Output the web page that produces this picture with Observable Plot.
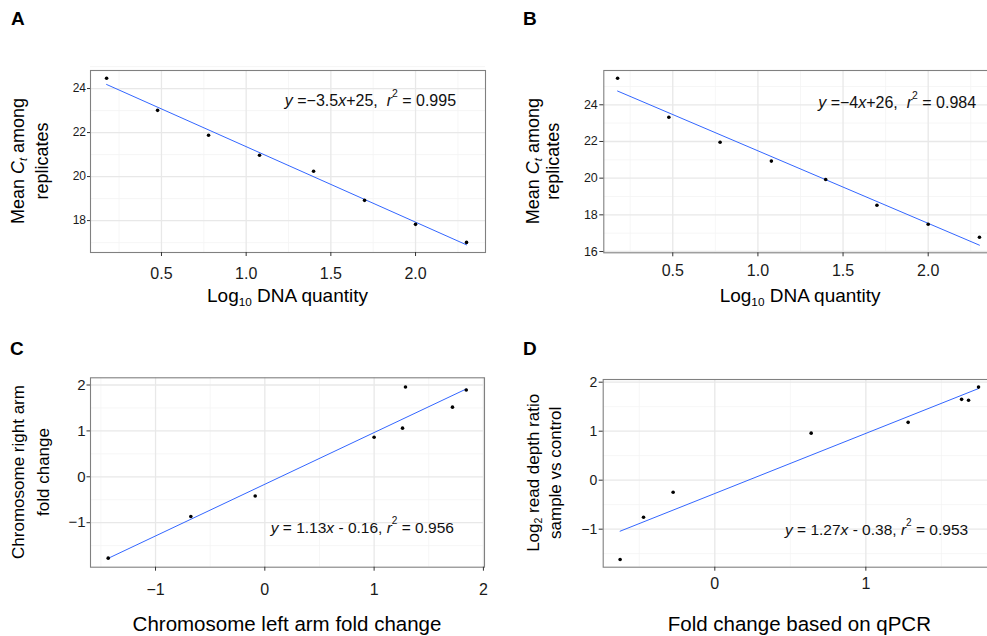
<!DOCTYPE html>
<html><head><meta charset="utf-8">
<script src="https://cdn.jsdelivr.net/npm/d3@7"></script>
<script src="https://cdn.jsdelivr.net/npm/@observablehq/plot@0.6"></script>
<style>
body{margin:0;background:#fff;overflow:hidden;}
#wrap{position:relative;width:987px;height:636px;overflow:hidden;background:#fff;}
#wrap svg{position:absolute;}
</style></head><body><div id="wrap"></div>
<script>
// ---- data ----
const dnaLog10 = [0.176, 0.477, 0.778, 1.079, 1.398, 1.699, 2.0, 2.301];
const ctMeanA = [24.47, 23.01, 21.88, 20.97, 20.24, 18.92, 17.83, 17.01];
const ctMeanB = [25.45, 23.32, 21.96, 20.93, 19.93, 18.52, 17.49, 16.78];
const leftArmC = [-1.433, -0.677, -0.088, 1.0, 1.26, 1.287, 1.717, 1.843];
const rightArmC = [-1.773, -0.865, -0.42, 0.863, 1.06, 1.957, 1.517, 1.89];
const qpcrD = [-0.627, -0.472, -0.276, 0.638, 1.28, 1.634, 1.68, 1.746];
const depthD = [-1.62, -0.755, -0.245, 0.96, 1.18, 1.65, 1.63, 1.90];

const ticksAB_x = [0.5, 1.0, 1.5, 2.0];
const minorAB_x = [0.25, 0.75, 1.25, 1.75, 2.25];
const ticksA_y = [18, 20, 22, 24];
const ticksB_y = [16, 18, 20, 22, 24];
const minorAB_y = [17, 19, 21, 23, 25];
const ticksC_x = [-1, 0, 1, 2];
const minorC_x = [-1.5, -0.5, 0.5, 1.5];
const ticksD_x = [0, 1];
const minorD_x = [-0.5, 0.5, 1.5];
const ticksCD_y = [-1, 0, 1, 2];
const minorCD_y = [-1.5, -0.5, 0.5, 1.5];

const eqA = [["y", "i"], [" =−3.5"], ["x", "i"], ["+25,  "], ["r", "i"], ["2", "sup"], [" = 0.995"]];
const eqB = [["y", "i"], [" =−4"], ["x", "i"], ["+26,  "], ["r", "i"], ["2", "sup"], [" = 0.984"]];
const eqC = [["y", "i"], [" = 1.13"], ["x", "i"], [" - 0.16, "], ["r", "i"], ["2", "sup"], [" = 0.956"]];
const eqD = [["y", "i"], [" = 1.27"], ["x", "i"], [" - 0.38, "], ["r", "i"], ["2", "sup"], [" = 0.953"]];

const xTitleAB = [["Log"], ["10", "sub"], [" DNA quantity"]];
const yTitleAB = [[["Mean "], ["C", "i"], ["t", "isub"], [" among"]], [["replicates"]]];
const xTitleC = [["Chromosome left arm fold change"]];
const yTitleC = [[["Chromosome right arm"]], [["fold change"]]];
const xTitleD = [["Fold change based on qPCR"]];
const yTitleD = [[["Log"], ["2", "sub"], [" read depth ratio"]], [["sample vs control"]]];

const FONT = "'Liberation Sans', Arial, Helvetica, sans-serif";

function rich(textSel, segs, fs) {
  let shift = 0;
  segs.forEach(([t, k]) => {
    const ts = textSel.append("tspan").text(t);
    let target = 0, size = fs;
    if (k === "sub" || k === "isub") { target = 0.3 * fs; size = 0.62 * fs; }
    if (k === "sup") { target = -0.42 * fs; size = 0.65 * fs; }
    if (k === "i" || k === "isub") ts.attr("font-style", "italic");
    ts.attr("font-size", size);
    if (target !== shift) { ts.attr("dy", target - shift); shift = target; }
  });
}

function panel(c) {
  const data = c.xs.map((x, i) => ({x, y: c.ys[i]}));
  const plot = Plot.plot({
    width: c.width, height: c.height,
    marginTop: c.m[0], marginRight: c.m[1], marginBottom: c.m[2], marginLeft: c.m[3],
    x: {domain: c.xDomain}, y: {domain: c.yDomain},
    style: {fontFamily: FONT, background: "transparent", overflow: "visible"},
    marks: [
      Plot.gridX({ticks: c.xMinor, stroke: "#f4f4f4", strokeOpacity: 1, strokeWidth: 0.8}),
      Plot.gridY({ticks: c.yMinor, stroke: "#f4f4f4", strokeOpacity: 1, strokeWidth: 0.8}),
      Plot.gridX({ticks: c.xTicks, stroke: "#e8e8e8", strokeOpacity: 1, strokeWidth: 1.3}),
      Plot.gridY({ticks: c.yTicks, stroke: "#e8e8e8", strokeOpacity: 1, strokeWidth: 1.3}),
      Plot.frame({stroke: "#808080", strokeWidth: 1.1}),
      Plot.axisX({ticks: c.xTicks, tickFormat: c.xFmt, fontSize: c.xFs, tickSize: 4,
        tickPadding: c.xPad, label: null, stroke: "#333", fill: "#1a1a1a"}),
      Plot.axisY({ticks: c.yTicks, tickFormat: d3.format("d"), fontSize: c.yFs, tickSize: c.ySize,
        tickPadding: c.yPad, label: null, stroke: "#333", fill: "#1a1a1a"}),
      Plot.linearRegressionY(data, {x: "x", y: "y", stroke: "#3366FF", strokeWidth: 1, ci: 0}),
      Plot.dot(data, {x: "x", y: "y", r: 1.8, fill: "black", stroke: "none"})
    ]
  });
  plot.style.left = c.left + "px";
  plot.style.top = c.top + "px";
  document.getElementById("wrap").appendChild(plot);
  const svg = d3.select(plot);
  const sx = plot.scale("x"), sy = plot.scale("y");
  const fx0 = c.m[3], fx1 = c.width - c.m[1], fy0 = c.m[0], fy1 = c.height - c.m[2];
  // panel letter
  svg.append("text").attr("x", c.letterPos[0]).attr("y", c.letterPos[1])
    .attr("text-anchor", "start")
    .attr("font-size", 19).attr("font-weight", "bold").attr("fill", "#000").text(c.letter);
  // x title
  const xt = svg.append("text").attr("x", (fx0 + fx1) / 2).attr("y", fy1 + c.xTitleOff)
    .attr("text-anchor", "middle").attr("dominant-baseline", "central").attr("fill", "#000");
  rich(xt, c.xTitle, c.xTitleFs);
  // y title (two lines)
  c.yTitle.forEach((line, i) => {
    const t = svg.append("text")
      .attr("transform", `translate(${c.yTitleX[i]},${(fy0 + fy1) / 2}) rotate(-90)`)
      .attr("text-anchor", "middle").attr("dominant-baseline", "central").attr("fill", "#000");
    rich(t, line, c.yTitleFs);
  });
  // equation
  const et = svg.append("text").attr("x", sx.apply(c.eqPos[0])).attr("y", sy.apply(c.eqPos[1]))
    .attr("text-anchor", "start")
    .attr("dominant-baseline", "central").attr("fill", "#111");
  rich(et, c.eq, c.eqFs);
}

panel({letter: "A", left: 0, top: 0, width: 490, height: 320, m: [70, 5, 68, 90],
  xs: dnaLog10, ys: ctMeanA, xDomain: [0.081, 2.413], yDomain: [16.55, 24.82],
  xTicks: ticksAB_x, xMinor: minorAB_x, yTicks: ticksA_y, yMinor: minorAB_y,
  xFmt: d3.format(".1f"), xFs: 16, xPad: 11, yFs: 12, ySize: 3, yPad: 1.5,
  letterPos: [11, 25], xTitle: xTitleAB, xTitleFs: 19, xTitleOff: 43,
  yTitle: yTitleAB, yTitleFs: 18, yTitleX: [18, 42],
  eq: eqA, eqPos: [1.231, 23.45], eqFs: 16});

panel({letter: "B", left: 490, top: 0, width: 512, height: 320, m: [70, 5, 67.7, 113.3],
  xs: dnaLog10, ys: ctMeanB, xDomain: [0.095, 2.407], yDomain: [15.93, 25.87],
  xTicks: ticksAB_x, xMinor: minorAB_x, yTicks: ticksB_y, yMinor: minorAB_y,
  xFmt: d3.format(".1f"), xFs: 16, xPad: 8, yFs: 12.5, ySize: 4, yPad: 2,
  letterPos: [33, 25], xTitle: xTitleAB, xTitleFs: 19, xTitleOff: 43,
  yTitle: yTitleAB, yTitleFs: 18, yTitleX: [43, 63],
  eq: eqB, eqPos: [1.357, 24.13], eqFs: 16});

panel({letter: "C", left: 0, top: 320, width: 490, height: 316, m: [57.3, 6, 69.3, 90],
  xs: leftArmC, ys: rightArmC, xDomain: [-1.595, 2.01], yDomain: [-1.97, 2.157],
  xTicks: ticksC_x, xMinor: minorC_x, yTicks: ticksCD_y, yMinor: minorCD_y,
  xFmt: d3.format("d"), xFs: 16, xPad: 12, yFs: 15, ySize: 3.5, yPad: 1.5,
  letterPos: [10, 35], xTitle: xTitleC, xTitleFs: 20.5, xTitleOff: 56,
  yTitle: yTitleC, yTitleFs: 17, yTitleX: [18, 43],
  eq: eqC, eqPos: [0.059, -1.105], eqFs: 15.5});

panel({letter: "D", left: 490, top: 320, width: 511, height: 316, m: [59, 5, 69.3, 112.7],
  xs: qpcrD, ys: depthD, xDomain: [-0.739, 1.865], yDomain: [-1.776, 2.055],
  xTicks: ticksD_x, xMinor: minorD_x, yTicks: ticksCD_y, yMinor: minorCD_y,
  xFmt: d3.format("d"), xFs: 16, xPad: 6, yFs: 14, ySize: 4, yPad: 2,
  letterPos: [33, 35], xTitle: xTitleD, xTitleFs: 20.5, xTitleOff: 56,
  yTitle: yTitleD, yTitleFs: 17, yTitleX: [43, 65],
  eq: eqD, eqPos: [0.468, -1.006], eqFs: 15.5});
</script></body></html>
